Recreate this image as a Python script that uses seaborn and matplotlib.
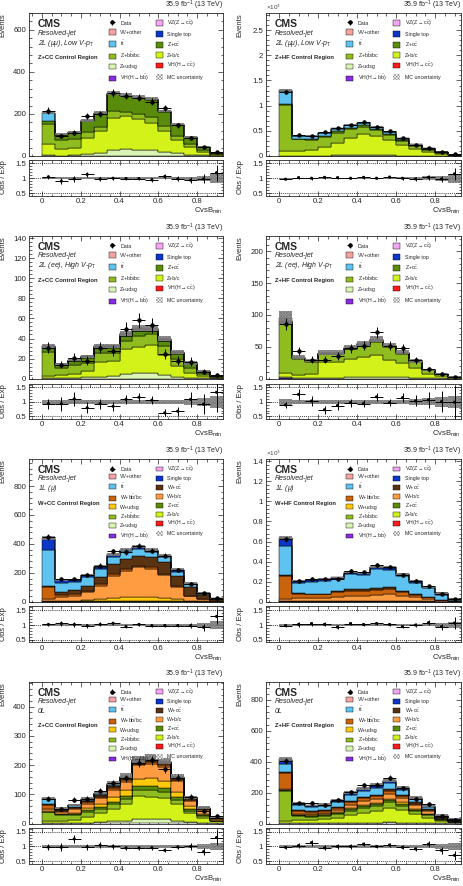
import numpy as np
import pandas as pd
import matplotlib
matplotlib.use("Agg")
import matplotlib.pyplot as plt
import seaborn as sns
from matplotlib.patches import Patch
from matplotlib.ticker import MultipleLocator, AutoMinorLocator, FuncFormatter

# ---------------- data ----------------
n_bins = 14
bin_lo, bin_hi = 0.0, 14 / 15

# Panel 1: 2L (mumu) Low V-pT, Z+CC
P1 = {
    "Zudsg": [3, 2, 3, 8, 15, 30, 33, 30, 27, 20, 12, 6, 3, 1],
    "Zbc": [52, 30, 37, 79, 104, 153, 157, 145, 132, 100, 65, 35, 16, 5],
    "Zbb": [95, 43, 42, 27, 19, 31, 21, 23, 27, 25, 20, 15, 8, 4],
    "Zcc": [16, 24, 28, 51, 63, 80, 73, 77, 82, 65, 50, 32, 15, 5.6],
    "tt": [38, 3, 3, 3, 3, 3, 3, 2, 2, 2, 1, 1, 0.5, 0.2],
    "VV": [2, 1, 1, 2, 2, 3, 3, 3, 3, 2, 2, 1, 0.5, 0.2],
}
data1 = [216, 93, 111, 192, 200, 300, 287, 277, 259, 227, 147, 84, 42, 19]
unc1 = [0.04, 0.04, 0.04, 0.04, 0.03, 0.03, 0.03, 0.03, 0.03, 0.03, 0.04, 0.05, 0.08, 0.15]

# Panel 2: 2L (mumu) Low V-pT, Z+HF
P2 = {
    "Zudsg": [5, 5, 6, 8, 10, 12, 15, 14, 12, 9, 6, 4, 2, 1],
    "Zbc": [95, 95, 104, 162, 240, 338, 415, 386, 298, 211, 124, 76, 43, 13],
    "Zbb": [910, 230, 200, 210, 210, 180, 150, 110, 110, 80, 67, 46, 20, 6],
    "Zcc": [15, 15, 20, 25, 30, 35, 35, 30, 25, 20, 12, 8, 5, 2],
    "tt": [275, 50, 65, 50, 55, 49, 39, 35, 30, 26, 18, 14, 9, 4.5],
    "VV": [10, 5, 5, 5, 5, 6, 6, 5, 5, 4, 3, 2, 1, 0.5],
}
data2 = [1271, 408, 400, 474, 561, 620, 680, 580, 499, 350, 225, 155, 78, 31]
unc2 = [0.02, 0.02, 0.02, 0.02, 0.02, 0.02, 0.02, 0.02, 0.02, 0.03, 0.04, 0.06, 0.08, 0.15]

# Panel 3: 2L (ee) High V-pT, Z+CC
P3 = {
    "Zudsg": [0.5, 0.5, 1, 1.5, 2, 3, 5, 6, 6, 4, 2, 1, 0.5, 0.2],
    "Zbc": [2.5, 3.5, 4, 6.5, 15, 15, 25, 26, 28, 20, 11, 5, 2, 0.8],
    "Zbb": [24, 7, 9, 8, 9, 8, 8, 10, 10, 9, 7, 5, 2.5, 1],
    "Zcc": [3.9, 2.6, 3.6, 4.8, 4.9, 4.9, 4.3, 5.3, 3.3, 4.6, 4.8, 3.5, 2, 0.7],
    "tt": [0.3, 0.2, 0.2, 0.3, 0.3, 0.3, 0.4, 0.4, 0.4, 0.3, 0.3, 0.2, 0.1, 0.05],
    "VV": [1.5, 1, 1, 1.2, 1.5, 1.5, 2, 2, 2, 1.8, 1.2, 0.8, 0.4, 0.2],
    "VZcc": [0.3, 0.2, 0.2, 0.2, 0.3, 0.3, 0.3, 0.3, 0.3, 0.3, 0.2, 0.1, 0.1, 0.05],
}
data3 = [31, 14, 21, 18, 31, 28, 49, 58, 53, 25, 18, 17, 7, 4]
unc3 = [0.06, 0.07, 0.07, 0.07, 0.06, 0.06, 0.06, 0.06, 0.06, 0.07, 0.08, 0.1, 0.15, 0.2]

# Panel 4: 2L (ee) High V-pT, Z+HF
P4 = {
    "VHbb": [1.5, 0.1, 0.1, 0.1, 0.1, 0.1, 0.1, 0.1, 0.1, 0.1, 0.05, 0.05, 0.02, 0.01],
    "Zudsg": [1, 0.5, 0.5, 1, 1.5, 2, 3, 3, 2.5, 2, 1, 0.5, 0.3, 0.1],
    "Zbc": [7, 5.5, 7.5, 25, 24.5, 29, 31, 34, 27.5, 22, 15, 7.5, 3.7, 1.4],
    "Zbb": [78, 25, 18, 12, 12, 15, 18, 21, 20, 15, 10, 5, 3, 1.2],
    "Zcc": [1.5, 1, 1, 1, 1, 1.2, 1.2, 1.5, 1.2, 1, 0.8, 0.4, 0.3, 0.1],
    "tt": [1, 0.5, 0.5, 0.5, 0.5, 0.5, 0.5, 0.5, 0.3, 0.3, 0.2, 0.1, 0.1, 0.02],
    "VV": [6, 1.5, 1.5, 1.5, 1.5, 1.5, 1.5, 2, 1.5, 1.5, 1, 0.5, 0.5, 0.2],
}
data4 = [86, 43, 30, 30, 36, 48, 52, 73, 52, 48, 29, 15, 8, 3]
unc4 = [0.1, 0.08, 0.08, 0.08, 0.08, 0.07, 0.07, 0.07, 0.07, 0.08, 0.1, 0.12, 0.16, 0.2]

# Panel 5: 1L (mu), W+CC
P5 = {
    "Zudsg": [0.5, 0.5, 0.5, 0.5, 1, 1, 1, 1, 1, 1, 1, 0.5, 0.5, 0.2],
    "Zbc": [0.5, 0.5, 0.5, 1, 1, 2, 2, 2, 2, 2, 1.5, 1, 0.5, 0.3],
    "Zbb": [1, 0.5, 0.5, 0.5, 0.5, 0.5, 0.5, 0.5, 0.5, 0.5, 0.5, 0.3, 0.2, 0.1],
    "Zcc": [0.5, 0.5, 0.5, 1, 1, 1.5, 1.5, 1.5, 1.5, 1.5, 1.5, 1, 1, 0.5],
    "Wudsg": [3, 3, 4, 6, 12, 20, 25, 28, 28, 22, 12, 5, 2, 1],
    "Wbc": [13.5, 28, 34, 57, 96, 154, 184, 204, 193, 155, 88, 30, 12, 3.4],
    "Wbb": [80, 12, 10, 10, 10, 12, 12, 12, 11, 9, 6, 3, 1.5, 0.5],
    "Wcc": [10, 21, 28, 35, 46, 69, 69, 69, 69, 81, 69, 62, 30, 10],
    "tt": [250, 65, 55, 58, 58, 46, 53, 46, 35, 35, 28, 18, 9, 4],
    "stop": [76, 18, 18, 16, 16, 18, 9, 12, 16, 12, 12, 5, 5, 2],
    "VV": [3, 2, 2, 2, 3, 4, 4, 4, 4, 4, 3, 2, 1, 0.5],
}
data5 = [447, 159, 156, 183, 250, 348, 343, 388, 354, 317, 219, 125, 58, 29]
unc5 = [0.03, 0.03, 0.03, 0.03, 0.03, 0.03, 0.03, 0.03, 0.03, 0.03, 0.04, 0.05, 0.07, 0.12]

# Panel 6: 1L (mu), W+HF
P6 = {
    "Zudsg": [1, 0.5, 0.5, 0.5, 0.5, 0.5, 0.5, 0.5, 0.5, 0.5, 0.5, 0.3, 0.2, 0.1],
    "Zbc": [1, 1, 1, 1, 1, 1.5, 1.5, 1.5, 1.5, 1.5, 1, 1, 0.5, 0.2],
    "Zbb": [3, 1, 1, 1, 1, 1, 1, 1, 1, 1, 1, 0.5, 0.3, 0.1],
    "Zcc": [0.5, 0.5, 0.5, 0.5, 0.5, 0.5, 0.5, 0.5, 0.5, 0.5, 0.5, 0.3, 0.2, 0.1],
    "Wudsg": [2, 2, 2, 2, 3, 3, 3, 3, 3, 3, 2, 1, 0.5, 0.2],
    "Wbc": [15, 30, 33, 33, 43, 50, 50, 60, 70, 50, 40, 25, 10, 3],
    "Wbb": [230, 40, 35, 35, 45, 55, 55, 55, 55, 45, 25, 15, 5, 2],
    "Wcc": [10, 8, 8, 8, 10, 12, 12, 12, 12, 10, 8, 5, 3, 1],
    "tt": [290, 105, 120, 125, 120, 150, 143, 190, 170, 145, 113, 85, 50, 14],
    "stop": [80, 17, 17, 17, 17, 17, 17, 23, 27, 17, 17, 10, 13, 5],
    "VV": [5, 2, 2, 2, 2, 3, 3, 3, 3, 3, 2, 1.5, 1, 0.5],
}
data6 = [625, 211, 231, 230, 226, 308, 292, 368, 350, 262, 210, 156, 79, 28]
unc6 = [0.03, 0.03, 0.03, 0.03, 0.03, 0.03, 0.03, 0.03, 0.03, 0.03, 0.03, 0.04, 0.06, 0.1]

# Panel 7: 0L, Z+CC
P7 = {
    "Zudsg": [2, 2, 2, 3, 5, 8, 10, 14, 15, 14, 10, 5, 2, 1],
    "Zbc": [8, 8, 10, 19, 30, 42, 55, 79, 77, 74, 55, 30, 18, 6],
    "Zbb": [28, 18, 16, 16, 15, 15, 18, 22, 22, 20, 16, 9, 5, 2],
    "Zcc": [3, 3, 4, 8, 8, 10, 12, 12, 13, 12, 10, 6, 3, 1],
    "Wudsg": [2, 2, 5, 6, 9, 14, 18, 26, 28, 26, 18, 10, 5, 2],
    "Wbc": [5, 5, 11, 16, 20, 27, 30, 47, 50, 48, 35, 18, 13, 5],
    "Wbb": [14, 4, 4, 4, 4, 5, 5, 5, 5, 5, 4, 3, 2, 1],
    "Wcc": [5, 3, 4, 5, 7, 8, 8, 7, 8, 9, 7, 5, 3, 1.5],
    "tt": [16, 5, 6, 5, 4, 4, 3, 3, 3, 3, 2, 1.5, 1, 0.5],
    "stop": [2, 1, 1, 1, 1, 1, 1, 1, 1, 1, 0.5, 0.5, 0.5, 0.2],
    "VV": [2, 1.5, 1.5, 2, 2.5, 3, 3, 3, 3, 3, 2.5, 2, 1, 0.5],
}
data7 = [85, 51, 81, 84, 110, 138, 155, 208, 216, 187, 157, 90, 44, 27]
unc7 = [0.05, 0.05, 0.05, 0.05, 0.05, 0.05, 0.05, 0.05, 0.05, 0.05, 0.05, 0.06, 0.1, 0.12]

# Panel 8: 0L, Z+HF
P8 = {
    "Zudsg": [3, 2, 2, 2, 3, 4, 5, 6, 7, 6, 4, 3, 1.5, 0.5],
    "Zbc": [10, 20, 20, 25, 35, 50, 65, 75, 95, 80, 55, 35, 15, 7],
    "Zbb": [200, 25, 22, 22, 25, 30, 32, 32, 35, 30, 22, 15, 7, 3],
    "Zcc": [5, 5, 5, 6, 8, 10, 12, 12, 14, 12, 9, 6, 3, 1.5],
    "Wudsg": [2, 3, 3, 4, 5, 7, 8, 9, 10, 9, 7, 5, 2, 1],
    "Wbc": [5, 8, 8, 10, 12, 18, 22, 25, 30, 25, 20, 14, 6, 4],
    "Wbb": [105, 20, 16, 14, 15, 18, 18, 18, 20, 16, 12, 8, 4, 2],
    "Wcc": [3, 3, 3, 4, 5, 7, 8, 9, 10, 9, 7, 5, 2, 1.5],
    "tt": [55, 35, 28, 28, 32, 40, 42, 45, 40, 30, 22, 15, 8, 8],
    "stop": [20, 7, 7, 7, 8, 12, 12, 14, 16, 12, 8, 6, 3, 2],
    "VV": [7, 3, 3, 3, 4, 5, 5, 5, 6, 5, 4, 3, 1.5, 1],
}
data8 = [403, 135, 132, 119, 152, 201, 247, 250, 297, 227, 156, 124, 46, 22]
unc8 = [0.04, 0.04, 0.04, 0.04, 0.04, 0.04, 0.04, 0.04, 0.04, 0.04, 0.05, 0.06, 0.1, 0.12]

# ---------------- style ----------------
sns.set_style("ticks")
plt.rcParams["font.family"] = ["Liberation Sans", "DejaVu Sans"]
plt.rcParams["mathtext.fontset"] = "custom"
plt.rcParams["mathtext.rm"] = "Liberation Sans"
plt.rcParams["mathtext.it"] = "Liberation Sans:italic"
plt.rcParams["mathtext.bf"] = "Liberation Sans:bold"
plt.rcParams["hatch.linewidth"] = 0.35
plt.rcParams["axes.linewidth"] = 0.6

HATCH = "x" * 22
HATCH_COLOR = "#7a7a7a"

colors = {
    "VZcc": "#f2a5f2", "VV": "#f4a3a0", "stop": "#0a37c8", "tt": "#5ec3f0",
    "Wcc": "#5a3312", "Wbb": "#c9630c", "Wbc": "#ff9b40", "Wudsg": "#ffc80a",
    "Zcc": "#5a8c0c", "Zbb": "#8fbc1e", "Zbc": "#d2f21a", "Zudsg": "#d9f5b3",
    "VHcc": "#ff1a1a", "VHbb": "#8a2be2",
}
labels = {
    "VZcc": r"VZ(Z$\rightarrow$c$\bar{\mathrm{c}}$)", "VV": "VV+other",
    "stop": "Single top", "tt": r"t$\bar{\mathrm{t}}$",
    "Wcc": r"W+c$\bar{\mathrm{c}}$", "Wbb": r"W+b$\bar{\mathrm{b}}$/bc",
    "Wbc": "W+b/c", "Wudsg": "W+udsg",
    "Zcc": r"Z+c$\bar{\mathrm{c}}$", "Zbb": r"Z+b$\bar{\mathrm{b}}$/bc",
    "Zbc": "Z+b/c", "Zudsg": "Z+udsg",
    "VHcc": r"VH(H$\rightarrow$c$\bar{\mathrm{c}}$)",
    "VHbb": r"VH(H$\rightarrow$b$\bar{\mathrm{b}}$)",
}
stack_top_to_bottom = ["VZcc", "VV", "stop", "tt", "Wcc", "Wbb", "Wbc", "Wudsg",
                       "Zcc", "Zbb", "Zbc", "Zudsg", "VHcc", "VHbb"]
leg_2L = (["Data", "VV", "tt", "Zbb", "Zudsg", "VHbb"],
          ["VZcc", "stop", "Zcc", "Zbc", "VHcc", "MC"])
leg_W = (["Data", "VV", "tt", "Wbb", "Wudsg", "Zbb", "Zudsg", "VHbb"],
         ["VZcc", "stop", "Wcc", "Wbc", "Zcc", "Zbc", "VHcc", "MC"])

edges = np.linspace(bin_lo, bin_hi, n_bins + 1)
centers = 0.5 * (edges[:-1] + edges[1:])
bw = edges[1] - edges[0]

W, H = 463, 886
fig = plt.figure(figsize=(W / 100, H / 100), dpi=100)

cols_px = [(29, 223), (266, 461)]
rows_px = [(13, 156, 159.5, 195.5), (236, 378.7, 383.7, 418.7),
           (459, 601.7, 606.3, 642.3), (682, 823.5, 828, 863.5)]


def rect(x0, x1, y0, y1):
    return [x0 / W, 1 - y1 / H, (x1 - x0) / W, (y1 - y0) / H]


gfmt = FuncFormatter(lambda v, p: "%g" % round(v, 6))


def style_axis(ax):
    ax.tick_params(which="both", direction="in", top=True, right=True,
                   width=0.5, labelsize=5.6, pad=2)
    ax.tick_params(which="major", length=3.5)
    ax.tick_params(which="minor", length=1.8)
    ax.xaxis.set_major_locator(MultipleLocator(0.2))
    ax.xaxis.set_minor_locator(MultipleLocator(0.05))
    ax.xaxis.set_major_formatter(gfmt)
    ax.yaxis.set_major_formatter(gfmt)
    ax.set_xlim(-1 / 15, 14 / 15)


panels = [
    (P1, data1, unc1, 1, 680, 200, r"2L ($\mu\mu$), Low V-$p_{\mathrm{T}}$", "Z+CC Control Region", leg_2L, 0, 0),
    (P2, data2, unc2, 1000, 2.84, 0.5, r"2L ($\mu\mu$), Low V-$p_{\mathrm{T}}$", "Z+HF Control Region", leg_2L, 0, 1),
    (P3, data3, unc3, 1, 142, 20, r"2L (ee), High V-$p_{\mathrm{T}}$", "Z+CC Control Region", leg_2L, 1, 0),
    (P4, data4, unc4, 1, 224, 50, r"2L (ee), High V-$p_{\mathrm{T}}$", "Z+HF Control Region", leg_2L, 1, 1),
    (P5, data5, unc5, 1, 987, 200, r"1L ($\mu$)", "W+CC Control Region", leg_W, 2, 0),
    (P6, data6, unc6, 1000, 1.423, 0.2, r"1L ($\mu$)", "W+HF Control Region", leg_W, 2, 1),
    (P7, data7, unc7, 1, 484, 100, "0L", "Z+CC Control Region", leg_W, 3, 0),
    (P8, data8, unc8, 1, 916, 200, "0L", "Z+HF Control Region", leg_W, 3, 1),
]

for comps, data, unc, scale, ytop, ymaj, chan, region, leg, r, c in panels:
    x0, x1 = cols_px[c]
    mt, mb, rt, rb = rows_px[r]
    ax = fig.add_axes(rect(x0, x1, mt, mb))
    axr = fig.add_axes(rect(x0, x1, rt, rb))

    procs = [p for p in stack_top_to_bottom if p in comps]
    rows = []
    for p in procs:
        for xc, v in zip(centers, comps[p]):
            rows.append({"x": float(xc), "w": float(v) / scale, "proc": p})
    df = pd.DataFrame(rows)
    sns.histplot(data=df, x="x", weights="w", hue="proc", hue_order=procs,
                 multiple="stack", bins=n_bins, binrange=(bin_lo, bin_hi),
                 element="step", alpha=1,
                 palette={p: colors[p] for p in procs}, edgecolor="black",
                 linewidth=0.35, legend=False, ax=ax)

    total = np.sum([np.asarray(comps[p], float) for p in procs], axis=0)
    unc = np.asarray(unc, float)
    data = np.asarray(data, float)

    # MC uncertainty band (main)
    ax.bar(centers, 2 * unc * total / scale, bottom=(1 - unc) * total / scale,
           width=bw, facecolor="none", edgecolor=HATCH_COLOR, hatch=HATCH,
           linewidth=0, zorder=3)
    eb = ax.errorbar(centers, data / scale, yerr=np.sqrt(data) / scale, xerr=bw / 2,
                     fmt="o", color="black", ms=2.2, elinewidth=0.7, capsize=0, zorder=5)

    ax.set_ylim(0, ytop)
    ax.set_xlabel("")
    style_axis(ax)
    ax.yaxis.set_major_locator(MultipleLocator(ymaj))
    ax.yaxis.set_minor_locator(AutoMinorLocator(5))
    ax.tick_params(labelbottom=False)
    ax.set_ylabel("Events", fontsize=5.6, loc="top")
    ax.yaxis.set_label_coords(-0.115, 1.0)

    ax.text(1.0, 1.004, r"35.9 fb$^{-1}$ (13 TeV)", transform=ax.transAxes,
            ha="right", va="bottom", fontsize=5.0)
    if scale == 1000:
        ax.text(0.0, 1.004, r"$\times$10$^{3}$", transform=ax.transAxes,
                ha="left", va="bottom", fontsize=4.6, color="#444444")
    ax.text(0.045, 0.923, "CMS", transform=ax.transAxes, ha="left", va="center",
            fontsize=7.5, fontweight="bold")
    ax.text(0.045, 0.86, "Resolved-jet", transform=ax.transAxes, ha="left",
            va="center", fontsize=5, style="italic")
    ax.text(0.045, 0.79, chan, transform=ax.transAxes, ha="left",
            va="center", fontsize=5, style="italic")
    ax.text(0.045, 0.69, region, transform=ax.transAxes, ha="left",
            va="center", fontsize=4.2, fontweight="bold")

    # legend
    handles, labs = [], []
    for col in leg:
        for key in col:
            if key == "Data":
                handles.append(eb)
                labs.append("Data")
            elif key == "MC":
                handles.append(Patch(facecolor="white", edgecolor=HATCH_COLOR,
                                     hatch="x" * 10, linewidth=0))
                labs.append("MC uncertainty")
            else:
                handles.append(Patch(facecolor=colors[key], edgecolor="black",
                                     linewidth=0.3))
                labs.append(labels[key])
    if len(leg[0]) == 6:
        hh, ls = 1.2, 0.7
    else:
        hh, ls = 1.0, 0.45
    ax.legend(handles, labs, ncol=2, loc="upper left", bbox_to_anchor=(0.41, 0.96),
              frameon=False, fontsize=3.8, handlelength=1.4, handleheight=hh,
              handletextpad=0.8, labelspacing=ls, columnspacing=1.2,
              borderpad=0, borderaxespad=0)

    # ratio panel
    ratio = data / total
    rerr = np.sqrt(data) / total
    axr.bar(centers, 2 * unc, bottom=1 - unc, width=bw, facecolor="none",
            edgecolor=HATCH_COLOR, hatch=HATCH, linewidth=0, zorder=2)
    for yv in (0.5, 1.0, 1.5):
        axr.axhline(yv, color="black", ls=(0, (1.5, 1.5)), lw=0.5, zorder=1)
    sns.scatterplot(x=centers, y=ratio, color="black", s=5, edgecolor="none",
                    ax=axr, zorder=5)
    axr.errorbar(centers, ratio, yerr=rerr, xerr=bw / 2, fmt="none",
                 ecolor="black", elinewidth=0.7, capsize=0, zorder=5)
    axr.set_ylim(0.42, 1.63)
    style_axis(axr)
    axr.yaxis.set_major_locator(MultipleLocator(0.5))
    axr.yaxis.set_minor_locator(MultipleLocator(0.1))
    axr.set_ylabel("Obs / Exp", fontsize=5.6)
    axr.yaxis.set_label_coords(-0.115, 0.5)
    axr.set_xlabel(r"CvsB$_{\mathrm{min}}$", fontsize=5.5, loc="right", labelpad=0.3)

fig.savefig("out.png", dpi=100)
